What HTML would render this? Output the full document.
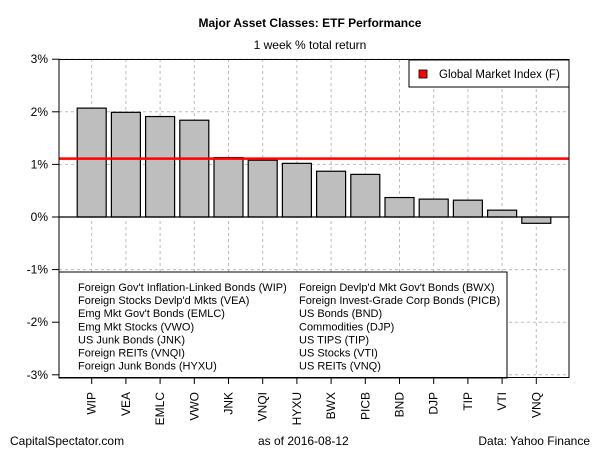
<!DOCTYPE html>
<html><head><meta charset="utf-8"><style>
body{margin:0;background:#fff;}
svg{display:block;font-family:"Liberation Sans",Arial,sans-serif;}
</style></head><body>
<svg id="chart" width="600" height="450" viewBox="0 0 600 450">
<rect width="600" height="450" fill="#fff"/>
<text x="310" y="27" text-anchor="middle" font-size="12" font-weight="bold">Major Asset Classes: ETF Performance</text>
<text x="310" y="49" text-anchor="middle" font-size="12">1 week % total return</text>
<g id="grid"></g>
<g id="bars"></g>
<g id="axes"></g>
<line id="gmi" stroke="#ff0000" stroke-width="2.5"/>
<g>
<rect x="409" y="60" width="160" height="27" fill="#fff" stroke="#000" stroke-width="1"/>
<rect x="419" y="70" width="8" height="8" fill="#ff0000" stroke="#000" stroke-width="0.8"/>
<text x="439" y="78" font-size="11.5">Global Market Index (F)</text>
</g>
<g id="legend2">
<rect x="59" y="272" width="448" height="106" fill="#fff" stroke="#000" stroke-width="1"/>
</g>
<rect x="59" y="59.5" width="510" height="318" fill="none" stroke="#000" stroke-width="1"/>
<text x="10" y="445" font-size="12">CapitalSpectator.com</text>
<text x="258" y="445" font-size="12">as of  2016-08-12</text>
<text x="590" y="445" text-anchor="end" font-size="12">Data: Yahoo Finance</text>
</svg>
<script>
const categories=["WIP","VEA","EMLC","VWO","JNK","VNQI","HYXU","BWX","PICB","BND","DJP","TIP","VTI","VNQ"];
const values=[2.07,1.99,1.91,1.84,1.13,1.08,1.02,0.87,0.81,0.37,0.34,0.32,0.13,-0.12];
const gmiValue=1.11;
const yTicks=[-3,-2,-1,0,1,2,3];
const yTickLabels=["-3%","-2%","-1%","0%","1%","2%","3%"];
const legendNames=["Foreign Gov't Inflation-Linked Bonds (WIP)","Foreign Stocks Devlp'd Mkts (VEA)","Emg Mkt Gov't Bonds (EMLC)","Emg Mkt Stocks (VWO)","US Junk Bonds (JNK)","Foreign REITs (VNQI)","Foreign Junk Bonds (HYXU)","Foreign Devlp'd Mkt Gov't Bonds (BWX)","Foreign Invest-Grade Corp Bonds (PICB)","US Bonds (BND)","Commodities (DJP)","US TIPS (TIP)","US Stocks (VTI)","US REITs (VNQ)"];
const NS="http://www.w3.org/2000/svg";
const y=v=>217-v*52.6;
const x=i=>91.7+i*34.2;
const bw=29;
function mk(t,a,p){const e=document.createElementNS(NS,t);for(const k in a)e.setAttribute(k,a[k]);p.appendChild(e);return e;}
const grid=document.getElementById('grid'),bars=document.getElementById('bars'),axes=document.getElementById('axes');
yTicks.forEach((t,k)=>{
 const g=mk('line',{x1:59,x2:569,y1:y(t),y2:y(t),stroke:'#bbb','stroke-dasharray':'3,3'},grid);
 
 
 const tk=mk('line',{x1:52,x2:59,y1:y(t),y2:y(t),stroke:'#000'},axes);
 
 
 const lb=mk('text',{x:48,y:y(t)+4,'text-anchor':'end','font-size':12},axes);
 lb.textContent=yTickLabels[k];
 
 
});
categories.forEach((c,i)=>{
 const g=mk('line',{x1:x(i),x2:x(i),y1:59,y2:377,stroke:'#bbb','stroke-dasharray':'3,3'},grid);
 
 
 const v=values[i];
 const b=mk('rect',{x:x(i)-bw/2,y:Math.min(y(v),y(0)),width:bw,height:Math.abs(y(v)-y(0)),fill:'#bebebe',stroke:'#000','stroke-width':1.2},bars);
 
 
 const tk=mk('line',{x1:x(i),x2:x(i),y1:377,y2:384,stroke:'#000'},axes);
 
 
 const lb=mk('text',{x:0,y:0,'text-anchor':'end','font-size':12,transform:`translate(${x(i)+4},392) rotate(-90)`},axes);
 lb.textContent=c;
 
 
});
const z=mk('line',{x1:59,x2:569,y1:y(0),y2:y(0),stroke:'#000','stroke-width':1.2},bars);


const gl=document.getElementById('gmi');
gl.setAttribute('x1',59);gl.setAttribute('x2',569);gl.setAttribute('y1',y(gmiValue));gl.setAttribute('y2',y(gmiValue));
const lg=document.getElementById('legend2');
legendNames.forEach((n,i)=>{
 const col=Math.floor(i/7),row=i%7;
 const t=mk('text',{x:col?299:78,y:291+row*13.1,'font-size':11},lg);
 t.textContent=n;
 
 
});
</script>
</body></html>
